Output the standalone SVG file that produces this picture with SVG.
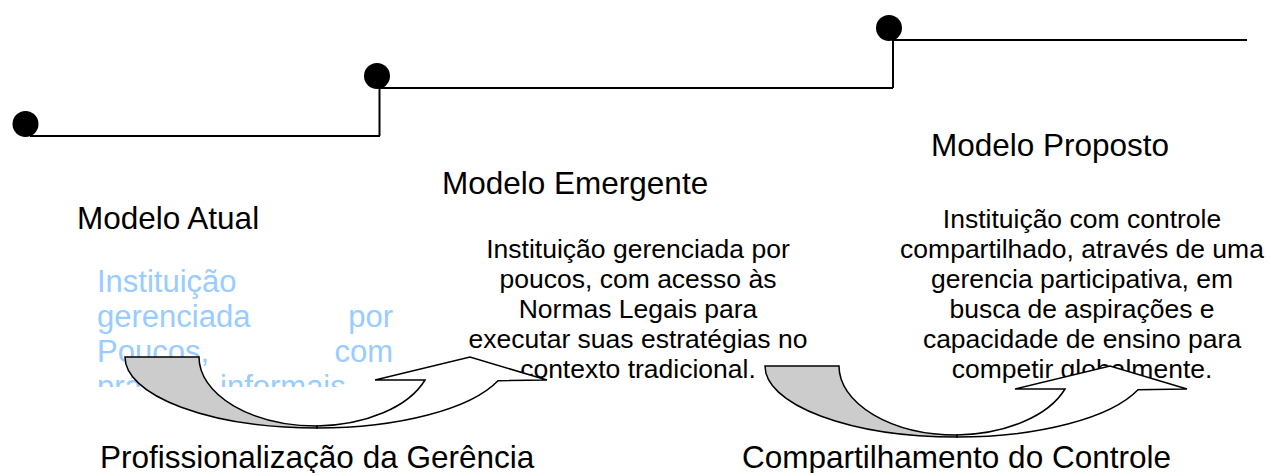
<svg xmlns="http://www.w3.org/2000/svg" width="1271" height="473" viewBox="0 0 1271 473">
  <style>
    .big { font-family: "Liberation Sans", Arial, sans-serif; font-size: 31.5px; fill: #000; }
    .small { font-family: "Liberation Sans", Arial, sans-serif; font-size: 26.5px; fill: #000; text-anchor: middle; }
    .blue { font-family: "Liberation Sans", Arial, sans-serif; font-size: 31px; fill: #99CCFF; }
    .step { stroke: #000; stroke-width: 2; fill: none; }
    .dot { fill: #000; }
    .tail { fill: #CCCCCC; stroke: #000; stroke-width: 1.5; stroke-linejoin: miter; }
    .head { fill: #FFFFFF; stroke: #000; stroke-width: 1.5; stroke-linejoin: miter; }
  </style>
  <defs>
    <clipPath id="clipLeft">
      <rect x="90" y="262" width="310" height="125"/>
    </clipPath>
    <g id="curvedArrow">
      <path class="tail" d="M125,357 A192,71 0 0 0 317,428 L317,426 A118,69 0 0 1 199,357 Z"/>
      <path class="head" d="M317,428 A192,71 0 0 0 498,380.7 L547,380 L470,357 L375,380 L425,380 A118,69 0 0 1 317,426 Z"/>
    </g>
  </defs>
  <rect width="1271" height="473" fill="#FFFFFF"/>

  <g id="steps">
    <path class="step" d="M30,136 H380 M379.5,136 V88 H893 M893,88 V40 H1247"/>
  </g>
  <g id="node-dot1"><circle class="dot" cx="25.5" cy="124" r="13"/></g>
  <g id="node-dot2"><circle class="dot" cx="377" cy="76" r="13"/></g>
  <g id="node-dot3"><circle class="dot" cx="889" cy="28" r="13"/></g>

  <g id="node-modelo-atual">
    <text class="big" x="77" y="229">Modelo Atual</text>
    <g clip-path="url(#clipLeft)">
      <text class="blue" x="97" y="292">Instituição</text>
      <text class="blue" x="97" y="327">gerenciada</text>
      <text class="blue" x="393" y="327" text-anchor="end">por</text>
      <text class="blue" x="97" y="362">Poucos,</text>
      <text class="blue" x="393" y="362" text-anchor="end">com</text>
      <text class="blue" x="97" y="397">práticas</text>
      <text class="blue" x="220" y="397">informais</text>
    </g>
  </g>

  <g id="node-modelo-emergente">
    <text class="big" x="442" y="194">Modelo Emergente</text>
    <text class="small" x="638" y="258">Instituição gerenciada por</text>
    <text class="small" x="638" y="288">poucos, com acesso às</text>
    <text class="small" x="638" y="318">Normas Legais para</text>
    <text class="small" x="638" y="348">executar suas estratégias no</text>
    <text class="small" x="638" y="378">contexto tradicional.</text>
  </g>

  <g id="node-modelo-proposto">
    <text class="big" x="931" y="156">Modelo Proposto</text>
    <text class="small" x="1082" y="228">Instituição com controle</text>
    <text class="small" x="1082" y="258">compartilhado, através de uma</text>
    <text class="small" x="1082" y="288">gerencia participativa, em</text>
    <text class="small" x="1082" y="318">busca de aspirações e</text>
    <text class="small" x="1082" y="348">capacidade de ensino para</text>
    <text class="small" x="1082" y="378">competir globalmente.</text>
  </g>

  <g id="connectors">
    <use href="#curvedArrow"/>
    <use href="#curvedArrow" transform="translate(640,9)"/>
  </g>

  <g id="node-profissionalizacao">
    <text class="big" x="100" y="468">Profissionalização da Gerência</text>
  </g>
  <g id="node-compartilhamento">
    <text class="big" x="742" y="468">Compartilhamento do Controle</text>
  </g>
</svg>
